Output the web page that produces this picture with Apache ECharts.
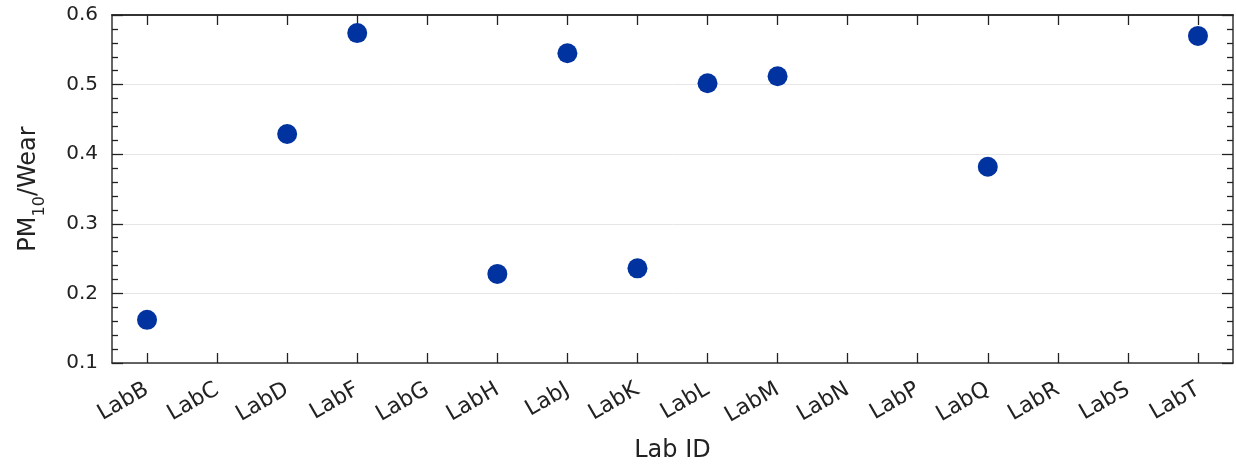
<!DOCTYPE html>
<html><head><meta charset="utf-8">
<script src="https://cdn.jsdelivr.net/npm/echarts@6/dist/echarts.min.js"></script>
<style>html,body{margin:0;padding:0;background:#fff}#c{width:1236px;height:466px}</style>
</head><body><div id="c"></div>
<script>
const categories = ['LabB','LabC','LabD','LabF','LabG','LabH','LabJ','LabK','LabL','LabM','LabN','LabP','LabQ','LabR','LabS','LabT'];
const values = [0.162, null, 0.429, 0.574, null, 0.228, 0.545, 0.236, 0.502, 0.512, null, null, 0.382, null, null, 0.570];
const yMin = 0.1, yMax = 0.6, yStep = 0.1;

const font = '"DejaVu Sans", "Liberation Sans", sans-serif';
const axisColor = '#333';
const tickStyle = {color: '#222', width: 1.3};
const chart = echarts.init(document.getElementById('c'));
chart.setOption({
  animation: false,
  grid: {left: 112, right: 3, top: 15, bottom: 103, containLabel: false, outerBoundsMode: 'none'},
  xAxis: [{
    type: 'category', data: categories, boundaryGap: true, position: 'bottom',
    name: 'Lab ID', nameLocation: 'middle', nameGap: 76,
    nameTextStyle: {fontFamily: font, fontSize: 24, color: '#222'},
    axisLine: {show: true, lineStyle: {color: axisColor, width: 1.5}},
    axisTick: {show: true, inside: true, alignWithLabel: true, length: 10, lineStyle: tickStyle},
    axisLabel: {show: true, rotate: 30, margin: 25, fontFamily: font, fontSize: 22, color: '#222', interval: 0},
    splitLine: {show: false}
  }, {
    type: 'category', data: categories, boundaryGap: true, position: 'top',
    axisLine: {show: true, lineStyle: {color: axisColor, width: 2}},
    axisTick: {show: true, inside: true, alignWithLabel: true, length: 10, lineStyle: tickStyle},
    axisLabel: {show: false}, splitLine: {show: false}
  }],
  yAxis: [{
    type: 'value', min: yMin, max: yMax, interval: yStep, position: 'left',
    name: '{a|PM}{b|10}{a|/Wear}', nameLocation: 'middle', nameGap: 71, nameRotate: 90,
    nameTextStyle: {rich: {
      a: {fontFamily: font, fontSize: 24, color: '#222', verticalAlign: 'bottom', lineHeight: 28},
      b: {fontFamily: font, fontSize: 16, color: '#222', verticalAlign: 'bottom', lineHeight: 28, padding: [0,0,-7,0]}
    }},
    axisLine: {show: true, lineStyle: {color: axisColor, width: 1.5}},
    axisTick: {show: true, inside: true, length: 11, lineStyle: tickStyle},
    minorTick: {show: true, splitNumber: 5, length: 6, lineStyle: tickStyle},
    axisLabel: {margin: 14, padding: [6, 0, 0, 0], fontFamily: font, fontSize: 20, color: '#222', formatter: v => v.toFixed(1)},
    splitLine: {show: true, lineStyle: {color: '#e6e6e6', width: 1}}
  }, {
    type: 'value', min: yMin, max: yMax, interval: yStep, position: 'right',
    axisLine: {show: true, lineStyle: {color: axisColor, width: 1.5}},
    axisTick: {show: true, inside: true, length: 11, lineStyle: tickStyle},
    minorTick: {show: true, splitNumber: 5, length: 6, lineStyle: tickStyle},
    axisLabel: {show: false}, splitLine: {show: false}
  }],
  series: [{
    type: 'scatter', xAxisIndex: 0, yAxisIndex: 0,
    data: values, symbolSize: 20,
    itemStyle: {color: '#0033a0', opacity: 1}
  }]
});
</script></body></html>
